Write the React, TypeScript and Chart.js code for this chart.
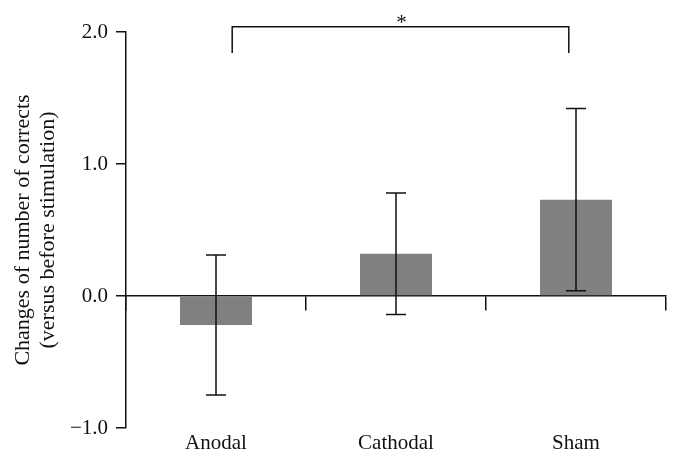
import { useEffect, useRef } from 'react';
import { Chart, registerables } from 'chart.js';

Chart.register(...registerables);

const categories = ['Anodal', 'Cathodal', 'Sham'];
const means = [-0.22, 0.32, 0.73];
const errors = [0.53, 0.46, 0.69];
const yTicks = [-1, 0, 1, 2];
const yTitle = ['Changes of number of corrects', '(versus before stimulation)'];
// significance bracket (x in category-index units, y in data units)
const bracketFrom = 0.09;
const bracketTo = 1.96;
const bracketTop = 2.04;
const bracketDrop = 1.84;
const sigLabel = '*';

const SERIF = "'Liberation Serif', 'DejaVu Serif', serif";
const INK = '#111111';

const fmt = (v: number) => (v < 0 ? '\u2212' : '') + Math.abs(v).toFixed(1);

const errorBarPlugin = {
  id: 'errorBars',
  afterDatasetsDraw(chart: any) {
    const { ctx, scales } = chart;
    const xs = scales.x;
    const ys = scales.y;
    ctx.save();
    ctx.strokeStyle = INK;
    ctx.lineWidth = 1.5;
    means.forEach((m, i) => {
      const x = xs.getPixelForValue(i);
      const yT = ys.getPixelForValue(m + errors[i]);
      const yB = ys.getPixelForValue(m - errors[i]);
      const cap = 10;
      ctx.beginPath();
      ctx.moveTo(x, yT);
      ctx.lineTo(x, yB);
      ctx.moveTo(x - cap, yT);
      ctx.lineTo(x + cap, yT);
      ctx.moveTo(x - cap, yB);
      ctx.lineTo(x + cap, yB);
      ctx.stroke();
    });
    ctx.restore();
  },
  afterDraw(chart: any) {
    const { ctx, scales } = chart;
    const xs = scales.x;
    const ys = scales.y;
    const x0 = xs.getPixelForDecimal((bracketFrom + 0.5) / categories.length);
    const x1 = xs.getPixelForDecimal((bracketTo + 0.5) / categories.length);
    const yT = ys.getPixelForValue(bracketTop);
    const yD = ys.getPixelForValue(bracketDrop);
    ctx.save();
    ctx.strokeStyle = INK;
    ctx.lineWidth = 1.5;
    ctx.beginPath();
    ctx.moveTo(x0, yD);
    ctx.lineTo(x0, yT);
    ctx.lineTo(x1, yT);
    ctx.lineTo(x1, yD);
    ctx.stroke();
    ctx.fillStyle = INK;
    ctx.font = `21px ${SERIF}`;
    ctx.textAlign = 'center';
    ctx.textBaseline = 'alphabetic';
    ctx.fillText(sigLabel, (x0 + x1) / 2 + 1, yT + 2);
    ctx.restore();
  },
};

export default function App() {
  const ref = useRef<HTMLCanvasElement | null>(null);

  useEffect(() => {
    document.body.style.margin = '0';
    if (!ref.current) return;
    const chart = new Chart(ref.current, {
      type: 'bar',
      data: {
        labels: categories,
        datasets: [
          {
            data: means,
            backgroundColor: '#808080',
            borderWidth: 0,
            barPercentage: 0.4,
            categoryPercentage: 1.0,
          },
        ],
      },
      options: {
        responsive: false,
        animation: false,
        layout: { padding: { left: 0, top: 32, right: 14, bottom: 0 } },
        plugins: { legend: { display: false }, tooltip: { enabled: false } },
        scales: {
          x: {
            type: 'category',
            offset: true,
            grid: { display: false },
            border: { display: false },
            ticks: {
              color: INK,
              font: { family: SERIF, size: 21 },
              padding: -5,
            },
            afterFit: (s: any) => {
              s.height = 30;
            },
          },
          x2: {
            type: 'category',
            axis: 'x',
            position: { y: 0 } as any,
            offset: true,
            z: 1,
            labels: categories,
            ticks: { display: false },
            grid: {
              display: true,
              offset: true,
              drawOnChartArea: false,
              drawTicks: true,
              tickLength: 14,
              color: INK,
              lineWidth: 1.5,
            },
            border: { display: true, color: INK, width: 1.5 },
          } as any,
          y: {
            min: -1,
            max: 2,
            afterBuildTicks: (s: any) => {
              s.ticks = yTicks.map((v) => ({ value: v }));
            },
            ticks: {
              color: INK,
              font: { family: SERIF, size: 21 },
              padding: 8,
              callback: (v: any) => fmt(Number(v)),
            },
            grid: {
              display: true,
              drawOnChartArea: false,
              drawTicks: true,
              tickLength: 10,
              color: INK,
              lineWidth: 1.5,
            },
            border: { display: true, color: INK, width: 1.5 },
            title: {
              display: true,
              text: yTitle,
              color: INK,
              font: { family: SERIF, size: 22, lineHeight: 1.14 },
              padding: { top: 11, bottom: 0 },
            },
            afterFit: (s: any) => {
              s.width = 126;
            },
          },
        },
      },
      plugins: [errorBarPlugin],
    });
    return () => chart.destroy();
  }, []);

  return (
    <div style={{ width: 680, height: 458, background: '#fff' }}>
      <canvas ref={ref} width={680} height={458} />
    </div>
  );
}
